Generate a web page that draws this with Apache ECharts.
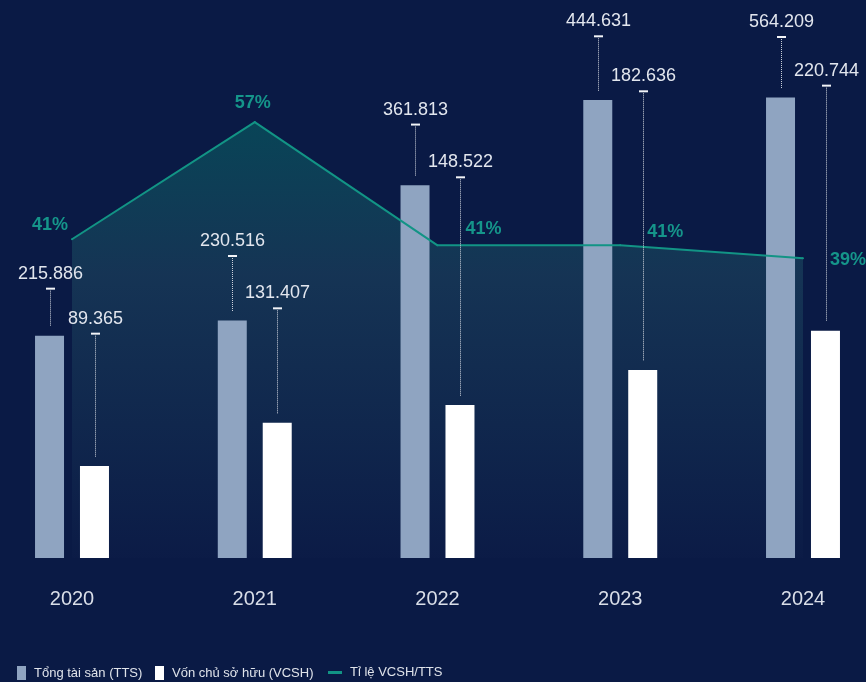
<!DOCTYPE html>
<html>
<head>
<meta charset="utf-8">
<script src="https://cdn.jsdelivr.net/npm/echarts@6/dist/echarts.min.js"></script>
<style>
  html, body { margin: 0; padding: 0; background: #0a1a45; }
  #main { width: 866px; height: 682px; }
</style>
</head>
<body>
<div id="main"></div>
<script>
const years = ['2020', '2021', '2022', '2023', '2024'];
// Tổng tài sản, as printed above the bars
const tts = [215.886, 230.516, 361.813, 444.631, 564.209];
// bar heights as drawn (the 2024 bar is drawn shorter than its printed value)
const ttsBar = [215.886, 230.516, 361.813, 444.631, 447];
const vcsh = [89.365, 131.407, 148.522, 182.636, 220.744];
// ratio line as drawn, and the percentages printed on it
const ratio = [41.9, 57.3, 41.1, 41.1, 39.4];
const ratioText = ['41%', '57%', '41%', '41%', '39%'];

const NAME_TTS = 'Tổng tài sản (TTS)';
const NAME_VCSH = 'Vốn chủ sở hữu (VCSH)';
const NAME_RATIO = 'Tỉ lệ VCSH/TTS';

// layout: where each leader cap sits (bar axis units), and % label offsets in px
const ttsCap = [261.5, 293.2, 420.8, 506.5, 505.8];
const vcshCap = [217.8, 242.4, 369.6, 453.1, 458.6];
const pctOffset = [[-21, -13], [-1, -18], [47, -15], [46, -12], [46, 3]];

const FONT = '"Liberation Sans", Arial, Helvetica, sans-serif';
const TEAL = '#129485';

const chart = echarts.init(document.getElementById('main'));

// dotted leader + small cap + number above each bar
function leaderSeries(barVals, printed, caps, dx) {
  return {
    type: 'custom',
    z: 5,
    silent: true,
    xAxisIndex: 0,
    yAxisIndex: 0,
    data: barVals.map((v, i) => [i, v, caps[i]]),
    encode: { x: 0, y: 1 },
    renderItem: function (params, api) {
      const i = params.dataIndex;
      const top = api.coord([api.value(0), api.value(1)]);
      const cap = api.coord([api.value(0), api.value(2)]);
      const x = Math.round(top[0] + dx) + 0.5;
      return {
        type: 'group',
        children: [
          {
            type: 'line',
            shape: { x1: x, y1: cap[1] + 2, x2: x, y2: top[1] - 9 },
            style: { stroke: '#cdd2dc', lineWidth: 1, lineDash: [1, 1] }
          },
          {
            type: 'line',
            shape: { x1: x - 4.5, y1: cap[1], x2: x + 4.5, y2: cap[1] },
            style: { stroke: '#f2f4f8', lineWidth: 2 }
          },
          {
            type: 'text',
            x: x,
            y: cap[1] - 15,
            style: {
              text: printed[i].toFixed(3),
              fill: '#e2e6ee',
              fontSize: 18,
              fontFamily: FONT,
              align: 'center',
              verticalAlign: 'middle'
            }
          }
        ]
      };
    }
  };
}

const legendText = {
  color: '#dfe3ea',
  fontSize: 13,
  fontFamily: FONT,
  padding: [0, 0, 0, 3]
};

const option = {
  backgroundColor: '#0a1a45',
  animation: false,
  textStyle: { fontFamily: FONT },
  grid: { left: 72, right: 63, top: 43, bottom: 124 },
  legend: [
    {
      data: [{ name: NAME_TTS, icon: 'rect' }],
      left: 17, top: 666, padding: 0,
      itemWidth: 9, itemHeight: 14,
      textStyle: legendText, selectedMode: false
    },
    {
      data: [{ name: NAME_VCSH, icon: 'rect' }],
      left: 155, top: 666, padding: 0,
      itemWidth: 9, itemHeight: 14,
      textStyle: legendText, selectedMode: false
    },
    {
      data: [{ name: NAME_RATIO, icon: 'rect' }],
      left: 328, top: 666, padding: 0,
      itemWidth: 14, itemHeight: 3,
      textStyle: legendText, selectedMode: false
    }
  ],
  xAxis: {
    type: 'category',
    data: years,
    boundaryGap: false,
    axisLine: { show: false },
    axisTick: { show: false },
    splitLine: { show: false },
    axisLabel: { color: '#d9dee8', fontSize: 20, margin: 31 }
  },
  yAxis: [
    { type: 'value', min: 0, max: 500, show: false, splitLine: { show: false } },
    { type: 'value', min: 0, max: 67.7, show: false, splitLine: { show: false } }
  ],
  series: [
    {
      name: 'area',
      type: 'line',
      yAxisIndex: 1,
      z: 1,
      silent: true,
      data: ratio,
      showSymbol: false,
      lineStyle: { width: 0 },
      areaStyle: {
        color: new echarts.graphic.LinearGradient(0, 0, 0, 1, [
          { offset: 0, color: '#08575f' },
          { offset: 0.35, color: '#1a3f5b' },
          { offset: 1, color: '#0c1c47' }
        ])
      }
    },
    {
      name: NAME_TTS,
      type: 'bar',
      z: 2,
      clip: false,
      barWidth: 29,
      barGap: '55%',
      itemStyle: { color: '#8fa4c1' },
      data: ttsBar
    },
    {
      name: NAME_VCSH,
      type: 'bar',
      z: 2,
      clip: false,
      barWidth: 29,
      barGap: '55%',
      itemStyle: { color: '#ffffff' },
      data: vcsh
    },
    {
      name: NAME_RATIO,
      type: 'line',
      yAxisIndex: 1,
      z: 3,
      color: TEAL,
      symbol: 'circle',
      symbolSize: 2,
      showSymbol: true,
      lineStyle: { color: TEAL, width: 2 },
      data: ratio.map((v, i) => ({
        value: v,
        label: {
          show: true,
          position: pctOffset[i],
          align: 'center',
          verticalAlign: 'middle',
          formatter: ratioText[i],
          color: '#15958a',
          fontSize: 18,
          fontWeight: 'bold'
        }
      }))
    },
    leaderSeries(ttsBar, tts, ttsCap, -22.5),
    leaderSeries(vcsh, vcsh, vcshCap, 22.5)
  ]
};

chart.setOption(option);
</script>
</body>
</html>
